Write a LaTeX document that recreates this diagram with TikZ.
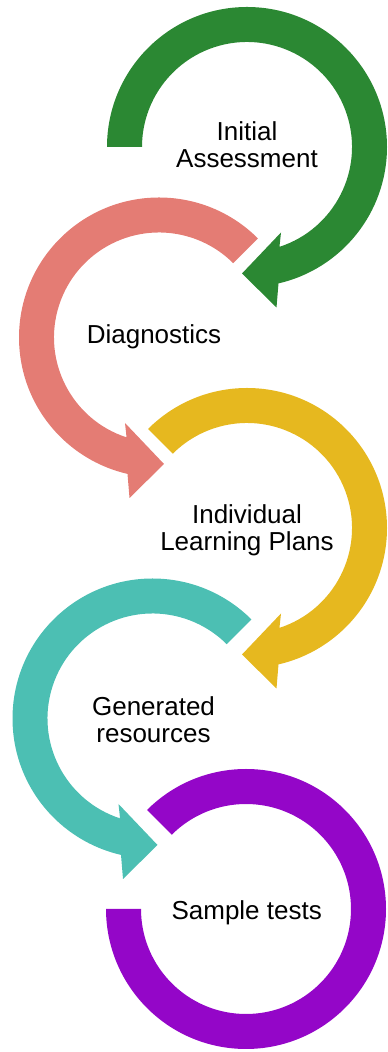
\documentclass[tikz,border=0pt]{standalone}
\usepackage{fontspec}
\setmainfont{Liberation Sans}
\definecolor{assessgreen}{HTML}{2B8833}
\definecolor{diagpink}{HTML}{E47C74}
\definecolor{planyellow}{HTML}{E6B81F}
\definecolor{restea}{HTML}{4CBFB3}
\definecolor{testpurple}{HTML}{9406C8}
\begin{document}
\begin{tikzpicture}[x=1pt,y=1pt, font=\fontsize{26}{27}\selectfont, line join=round,
  lbl/.style={align=center, inner sep=0pt}]
\useasboundingbox (0,0) rectangle (388,1052);
\def \ro{140} \def \ri{105}
% step 1, turning clockwise
\begin{scope}[shift={(247,905)}]
\fill[assessgreen] (180:\ro) arc[start angle=180,end angle=-77,radius=\ro] -- (29.5,-160.5) -- (-5,-126.5) -- (34,-85.5)
  -- (-72:\ri) arc[start angle=-72,end angle=180,radius=\ri] -- cycle;
\node[lbl] (assess) at (0,2.5) {Initial\\Assessment};
\end{scope}
% step 2, anticlockwise
\begin{scope}[shift={(159,714.5)}]
\fill[diagpink] (45:\ro) arc[start angle=45,end angle=257,radius=\ro] -- (-29.5,-160.5) -- (5,-126.5) -- (-34,-85.5)
  -- (252:\ri) arc[start angle=252,end angle=45,radius=\ri] -- cycle;
\node[lbl,anchor=base] (diag) at (-5,-5.8) {Diagnostics};
\end{scope}
% step 3
\begin{scope}[shift={(247,524)}]
\fill[planyellow] (135:\ro) arc[start angle=135,end angle=-77,radius=\ro] -- (29.5,-160.5) -- (-5,-126.5) -- (34,-85.5)
  -- (-72:\ri) arc[start angle=-72,end angle=135,radius=\ri] -- cycle;
\node[lbl] (plans) at (0,-2) {Individual\\Learning Plans};
\end{scope}
% step 4
\begin{scope}[shift={(152.5,333.5)}]
\fill[restea] (45:\ro) arc[start angle=45,end angle=257,radius=\ro] -- (-29.5,-160.5) -- (5,-126.5) -- (-34,-85.5)
  -- (252:\ri) arc[start angle=252,end angle=45,radius=\ri] -- cycle;
\node[lbl] (gen) at (1,-1.5) {Generated\\resources};
\end{scope}
% step 5, no head
\begin{scope}[shift={(246,143)}]
\fill[testpurple] (135:\ro) arc[start angle=135,end angle=-180,radius=\ro]
  -- (-180:\ri) arc[start angle=-180,end angle=135,radius=\ri] -- cycle;
\node[lbl,anchor=base] (tests) at (0.7,-11) {Sample tests};
\end{scope}
\end{tikzpicture}
\end{document}
